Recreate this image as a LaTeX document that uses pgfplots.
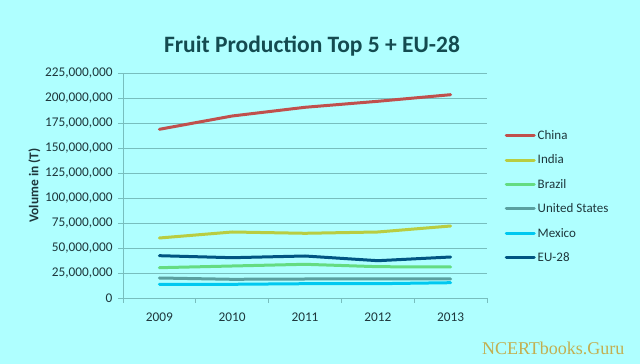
\documentclass[border=0pt]{standalone}
\usepackage{pgfplots}
\pgfplotsset{compat=1.18}
\usepackage{fontspec}
\setmainfont{Carlito}
\newfontfamily\wmfont{Liberation Serif}
\definecolor{bg}{RGB}{175,255,255}
\definecolor{gridc}{RGB}{120,190,190}
\definecolor{titlec}{RGB}{20,75,80}
\definecolor{textc}{RGB}{30,55,60}
\definecolor{cChina}{RGB}{192,80,77}
\definecolor{cIndia}{RGB}{185,205,65}
\definecolor{cBrazil}{RGB}{100,220,130}
\definecolor{cUS}{RGB}{90,160,160}
\definecolor{cMexico}{RGB}{0,200,240}
\definecolor{cEU}{RGB}{0,85,130}
\definecolor{wm}{RGB}{195,175,80}
\begin{document}
\begin{tikzpicture}
\path[fill=bg] (0,0) rectangle (640bp,364bp);
\node[font=\fontsize{23.5bp}{26bp}\selectfont\bfseries, text=titlec] at (312bp,318bp) {Fruit Production Top 5 + EU-28};
\node[font=\fontsize{18bp}{20bp}\wmfont, text=wm, anchor=east] at (628bp,16bp) {NCERTbooks.Guru};
\begin{axis}[
  at={(123bp,66bp)}, anchor=south west,
  scale only axis, width=364bp, height=225bp,
  xmin=-0.5, xmax=4.5, ymin=0, ymax=225000000,
  axis x line*=bottom, axis y line*=left,
  axis line style={gridc, line width=0.8bp},
  xtick={0,1,2,3,4}, xticklabels={2009,2010,2011,2012,2013},
  major x tick style={draw=none},
  minor xtick={-0.5,0.5,1.5,2.5,3.5,4.5},
  minor x tick style={gridc, line width=0.8bp},
  minor tick length=5bp,
  ytick={0,25000000,...,225000000},
  y tick style={gridc, line width=0.8bp},
  major tick length=5bp,
  tick align=outside,
  ymajorgrids, grid style={gridc, line width=0.8bp},
  scaled y ticks=false,
  /pgf/number format/.cd, fixed, 1000 sep={,}, assume math mode=true,
  /pgfplots/.cd,
  tick label style={font=\fontsize{13.3bp}{15bp}\selectfont, text=textc},
  yticklabel style={xshift=-2bp},
  xticklabel style={yshift=-6bp},
  ylabel={\bfseries Volume in (T)},
  ylabel style={font=\fontsize{13.4bp}{15bp}\selectfont, text=textc, yshift=-2bp},
  legend style={at={(1.04,0.763)}, anchor=north west, draw=none, fill=none,
     font=\fontsize{13bp}{15bp}\selectfont, text=textc, row sep=9.9bp, cells={anchor=west}},
  legend image code/.code={\draw[#1, line width=3bp] (0bp,0bp) -- (28bp,0bp);},
  every axis plot/.append style={line width=3bp, line join=round, line cap=round},
]
\addplot[cChina] coordinates {(0,168.7e6) (1,182e6) (2,190.7e6) (3,196.7e6) (4,203.3e6)};
\addlegendentry{China}
\addplot[cIndia] coordinates {(0,60e6) (1,66e6) (2,64.7e6) (3,66e6) (4,72e6)};
\addlegendentry{India}
\addplot[cBrazil] coordinates {(0,30.3e6) (1,32e6) (2,33.7e6) (3,31.3e6) (4,31e6)};
\addlegendentry{Brazil}
\addplot[cUS] coordinates {(0,20e6) (1,18.7e6) (2,19e6) (3,19e6) (4,19e6)};
\addlegendentry{United States}
\addplot[cMexico] coordinates {(0,13.7e6) (1,13.7e6) (2,14.3e6) (3,14.3e6) (4,15.3e6)};
\addlegendentry{Mexico}
\addplot[cEU] coordinates {(0,42.3e6) (1,40.3e6) (2,42e6) (3,37.3e6) (4,41e6)};
\addlegendentry{EU-28}
\end{axis}
\end{tikzpicture}
\end{document}
